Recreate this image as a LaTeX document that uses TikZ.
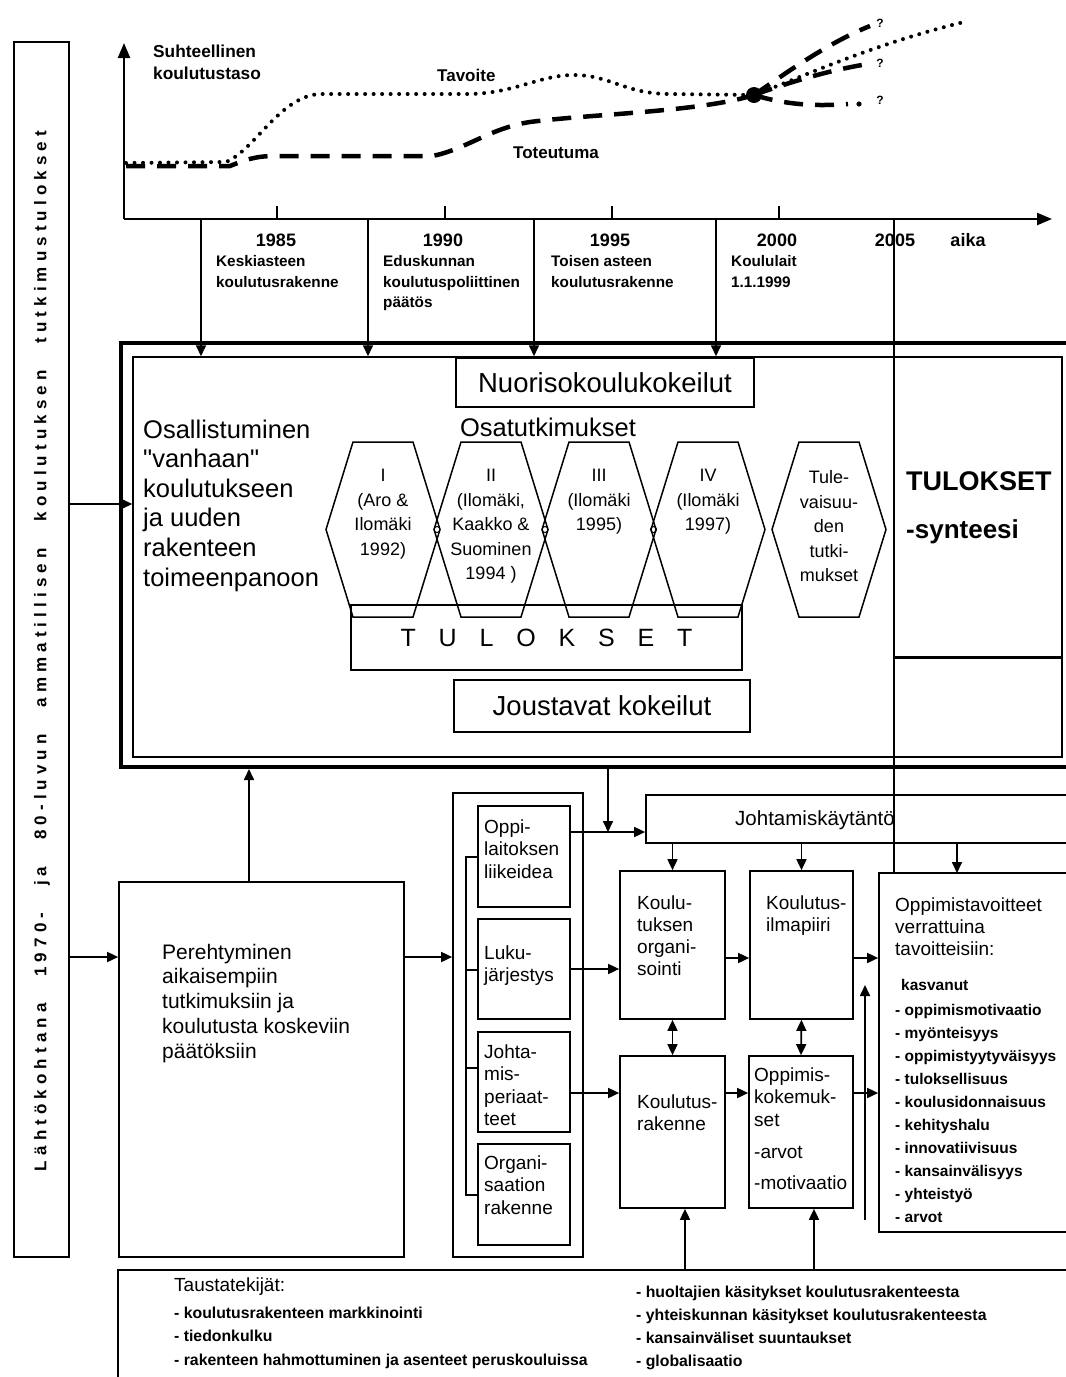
\documentclass[tikz,border=0pt]{standalone}
\usepackage{fontspec}
\setmainfont{Liberation Sans}
\newfontfamily\qf{Liberation Sans}
\usetikzlibrary{arrows.meta}
\newcommand\fsz[2]{\fontsize{#1pt}{#2pt}\selectfont}
\begin{document}
\begin{tikzpicture}[x=1pt,y=-1pt,
  ln/.style={line width=1.7pt},
  ar/.style={ln,-{Triangle[length=11pt,width=10pt]}},
  dar/.style={ln,{Triangle[length=11pt,width=10pt]}-{Triangle[length=11pt,width=10pt]}},
  bx/.style={draw,line width=1.7pt,inner sep=0pt},
  txt/.style={anchor=base west,align=left,inner sep=0pt},
  hexs/.style={line width=1.5pt},
  hext/.style={anchor=base,align=center,inner sep=0pt,font=\fsz{18}{24.5}},
  dotl/.style={line width=4pt,line cap=round,dash pattern=on 0pt off 8.5pt},
  dashl/.style={line width=4.5pt,dash pattern=on 19pt off 12pt},
  yr/.style={anchor=base,inner sep=0pt,font=\bfseries\fsz{18}{20}},
  desc/.style={txt,font=\bfseries\fsz{15.3}{20.5}},
  qm/.style={inner sep=0pt,font=\bfseries\fsz{12}{14}},
  boxt/.style={txt,font=\fsz{19}{22.5}}
]
\useasboundingbox (0,0) rectangle (1066,1377);
\clip (0,0) rectangle (1066,1377);
\fill[white] (0,0) rectangle (1066,1377);

% ---------- left vertical box ----------
\node[bx, minimum width=55pt, minimum height=1215pt] (leftbox) at (41.5,649.5) {};
\node[rotate=90,inner sep=0pt,font=\bfseries\fsz{17}{20}\addfontfeature{LetterSpace=30}] (vtext) at (42,651)
  {\makebox[1040pt][s]{Lähtökohtana 1970- ja 80-luvun ammatillisen koulutuksen tutkimustulokset}};

% ---------- graph ----------
\coordinate (orig) at (124,219);
\coordinate (ytip) at (124,43);
\coordinate (xtip) at (1052,219);
\draw[line width=2.4pt,-{Triangle[length=15pt,width=12pt]}] (orig) -- (ytip);
\draw[line width=2.4pt,-{Triangle[length=15pt,width=12pt]}] (orig) -- (xtip);
\foreach \t in {277,445,612,779} \draw[ln] (\t,206) -- (\t,219);

\node[txt,font=\bfseries\fsz{17.3}{22}] (ylab) at (153,79) {Suhteellinen\\koulutustaso};
\node[txt,font=\bfseries\fsz{17}{20}] (tav) at (437,81) {Tavoite};
\node[txt,font=\bfseries\fsz{17}{20}] (tot) at (513,158) {Toteutuma};

\draw[dotl] (126,163) -- (226,162) .. controls (255,150) and (280,96) .. (320,94) -- (470,94)
   .. controls (515,93) and (540,75) .. (574,75) .. controls (610,75) and (625,94) .. (670,94)
   -- (754,95) .. controls (800,78) and (870,45) .. (964,22);
\draw[dashl] (126,166) -- (230,166) .. controls (245,160) and (255,156) .. (275,156) -- (432,156)
   .. controls (465,150) and (490,128) .. (530,122) .. controls (590,114) and (700,112) .. (754,95);
\coordinate (bdot) at (754,95);
\draw[dashl] (bdot) .. controls (790,70) and (830,42) .. (870,26);
\draw[dashl] (bdot) .. controls (790,82) and (830,70) .. (868,64);
\draw[dashl] (bdot) .. controls (790,106) and (820,106) .. (848,104);
\fill (859,104) circle (2.6);
\fill (bdot) circle (8);
\node[qm] (q1) at (880,23) {?};
\node[qm] (q2) at (880,63) {?};
\node[qm] (q3) at (880,100) {?};

\node[yr] (y85) at (276,246.5) {1985};
\node[yr] (y90) at (443,246.5) {1990};
\node[yr] (y95) at (610,246.5) {1995};
\node[yr] (y00) at (777,246.5) {2000};
\node[yr] (y05) at (895,246.5) {2005};
\node[yr] (aika) at (968,246.5) {aika};
\node[desc] (d85) at (216,287) {Keskiasteen\\koulutusrakenne};
\node[desc] (d90) at (383,307.5) {Eduskunnan\\koulutuspoliittinen\\päätös};
\node[desc] (d95) at (551,287) {Toisen asteen\\koulutusrakenne};
\node[desc] (d00) at (731,287) {Koululait\\1.1.1999};

% ---------- big box ----------
\node[draw,line width=4pt,inner sep=0pt,minimum width=960pt,minimum height=424pt] (outer) at (600.5,555) {};
\node[draw,line width=1.5pt,inner sep=0pt,minimum width=929pt,minimum height=400pt] (inner) at (597.5,557) {};
\node[bx,line width=1.5pt,minimum width=168pt,minimum height=300pt] (tul) at (978,507) {};
\node[txt,font=\bfseries\fsz{27}{30}] (tt1) at (906,490) {TULOKSET};
\node[txt,font=\bfseries\fsz{26}{30}] (tt2) at (906,538) {-synteesi};

\node[bx,minimum width=298pt,minimum height=49pt,font=\fsz{27.5}{30}] (nuor) at (605,382.5) {Nuorisokoulukokeilut};
\node[inner sep=0pt,font=\fsz{25.5}{30}] (ost) at (548,427) {Osatutkimukset};
\node[txt,font=\fsz{25.5}{29.6}] (osa) at (143,586) {Osallistuminen\\{\qf"}vanhaan{\qf"}\\koulutukseen\\ja uuden\\rakenteen\\toimeenpanoon};

\foreach \cx in {383,491,599,708,829}
  \draw[hexs] (\cx-57,529.5) -- (\cx-30,442) -- (\cx+30,442) -- (\cx+57,529.5) -- (\cx+30,617) -- (\cx-30,617) -- cycle;
\foreach \cx in {437,545,653.5} \draw[line width=1pt] (\cx,529.5) circle (3);
\node[hext] (h1) at (383,555) {I\\(Aro \&\\Ilomäki\\1992)};
\node[hext] (h2) at (491,579.5) {II\\(Ilomäki,\\Kaakko \&\\Suominen\\1994 )};
\node[hext] (h3) at (599,530.5) {III\\(Ilomäki\\1995)};
\node[hext] (h4) at (708,530.5) {IV\\(Ilomäki\\1997)};
\node[hext] (h5) at (829,581.5) {Tule-\\vaisuu-\\den\\tutki-\\mukset};

\node[bx,minimum width=391pt,minimum height=65pt,font=\fsz{25}{30}] (tbox) at (546.5,637.5) {\makebox[292pt][s]{T U L O K S E T}};
\node[bx,minimum width=296pt,minimum height=52pt,font=\fsz{27.5}{30}] (jous) at (602,706) {Joustavat kokeilut};

% ---------- lower part ----------
\node[bx,minimum width=285pt,minimum height=375pt] (pere) at (261.5,1069.5) {};
\node[txt,font=\fsz{21}{24.8}] (pt) at (162,1058.2) {Perehtyminen\\aikaisempiin\\tutkimuksiin ja\\koulutusta koskeviin\\päätöksiin};

\node[bx,minimum width=130pt,minimum height=464pt] (group) at (518,1025) {};
\node[bx,minimum width=92pt,minimum height=101pt] (b1) at (524,856.5) {};
\node[bx,minimum width=92pt,minimum height=100pt] (b2) at (524,969) {};
\node[bx,minimum width=92pt,minimum height=100pt] (b3) at (524,1082) {};
\node[bx,minimum width=92pt,minimum height=101pt] (b4) at (524,1194.5) {};
\node[boxt] (b1t) at (484,878) {Oppi-\\laitoksen\\liikeidea};
\node[boxt] (b2t) at (484,981.5) {Luku-\\järjestys};
\node[boxt] (b3t) at (484,1125.5) {Johta-\\mis-\\periaat-\\teet};
\node[boxt] (b4t) at (484,1214) {Organi-\\saation\\rakenne};
\draw[ln] (b1.west |- 0,857) -- (466,857) -- (466,1195) -- (b4.west |- 0,1195);
\draw[ln] (466,970) -- (b2.west |- 0,970);
\draw[ln] (466,1068) -- (b3.west |- 0,1068);

\node[bx,minimum width=434pt,minimum height=48pt] (joht) at (863,819) {};
\node[inner sep=0pt,font=\fsz{20.5}{24}] (jtx) at (815,820) {Johtamiskäytäntö};

\node[bx,minimum width=105pt,minimum height=148pt] (korg) at (672.5,945) {};
\node[bx,minimum width=103pt,minimum height=148pt] (kilm) at (801.5,945) {};
\node[bx,minimum width=105pt,minimum height=152pt] (krak) at (672.5,1132) {};
\node[bx,minimum width=104pt,minimum height=152pt] (okok) at (801,1132) {};
\node[boxt,font=\fsz{19}{22.3}] (korgt) at (637,975.9) {Koulu-\\tuksen\\organi-\\sointi};
\node[boxt,font=\fsz{19}{22.3}] (kilmt) at (766,931.3) {Koulutus-\\ilmapiiri};
\node[boxt,font=\fsz{19}{22.3}] (krakt) at (637,1130.3) {Koulutus-\\rakenne};
\node[boxt,font=\fsz{19}{22.5}] (okokt) at (754,1189) {Oppimis-\\kokemuk-\\set\\[9.5pt]-arvot\\[8.5pt]-motivaatio};

\node[bx,minimum width=201pt,minimum height=359pt] (otav) at (979.5,1052.5) {};
\node[txt,font=\fsz{19}{22}] (otx) at (895,955) {Oppimistavoitteet\\verrattuina\\tavoitteisiin:};
\node[txt,font=\bfseries\fsz{15.5}{23.1}] (kas) at (901,990) {kasvanut};
\node[txt,font=\bfseries\fsz{15.5}{23.1}] (lst) at (895,1222.9) {- oppimismotivaatio\\- myönteisyys\\- oppimistyytyväisyys\\- tuloksellisuus\\- koulusidonnaisuus\\- kehityshalu\\- innovatiivisuus\\- kansainvälisyys\\- yhteistyö\\- arvot};

\node[bx,minimum width=962pt,minimum height=120pt] (taus) at (599,1330) {};
\node[txt,font=\fsz{19}{23}] (tt) at (174,1291) {Taustatekijät:};
\node[txt,font=\bfseries\fsz{15.8}{23.5}] (tl) at (174,1365) {- koulutusrakenteen markkinointi\\- tiedonkulku\\- rakenteen hahmottuminen ja asenteet peruskouluissa};
\node[txt,font=\bfseries\fsz{15.8}{23.3}] (tr) at (636,1366.9) {- huoltajien käsitykset koulutusrakenteesta\\- yhteiskunnan käsitykset koulutusrakenteesta\\- kansainväliset suuntaukset\\- globalisaatio};

% ---------- connectors ----------
\foreach \vx/\nm in {201/v1,368/v2,534/v3,716/v4} {
  \coordinate (\nm) at (\vx,219);
  \draw[ar] (\nm) -- (\nm |- inner.north);
}
\coordinate (v5) at (894,219);
\draw[line width=1.2pt] (v5) -- (v5 |- otav.north);
\draw[line width=1.5pt] (tul.south west) -- (tul.south east);

\coordinate (la) at (69,504);
\draw[ar] (la) -- (la -| inner.west);
\coordinate (lb) at (69,957);
\draw[ar] (lb) -- (lb -| pere.west);
\coordinate (pu) at (249,882);
\draw[ar] (pu) -- (pu |- outer.south);
\draw[ar] (pere.east |- lb) -- (lb -| group.west);
\coordinate (od) at (608,832);
\draw[ar] (od |- outer.south) -- (od);
\draw[ar] (b1.east |- od) -- (od -| joht.west);
\draw[ar] (korg.north |- joht.south) -- (korg.north);
\draw[ar] (kilm.north |- joht.south) -- (kilm.north);
\coordinate (ot) at (957,873);
\draw[ar] (ot |- joht.south) -- (ot);
\draw[ar] (b2.east) -- (b2.east -| korg.west);
\coordinate (r3) at (570,1093);
\draw[ar] (r3) -- (r3 -| krak.west);
\coordinate (r2) at (725,958);
\draw[ar] (r2) -- (r2 -| kilm.west);
\draw[ar] (kilm.east |- r2) -- (r2 -| otav.west);
\draw[ar] (krak.east |- r3) -- (r3 -| okok.west);
\draw[ar] (okok.east |- r3) -- (r3 -| otav.west);
\draw[dar] (korg.south) -- (krak.north);
\draw[dar] (kilm.south) -- (okok.north);
\coordinate (va) at (865,1220);
\coordinate (vb) at (865,985);
\draw[ar] (va) -- (vb);
\coordinate (t1) at (685,1270);
\draw[ar] (t1) -- (t1 |- krak.south);
\coordinate (t2) at (814,1270);
\draw[ar] (t2) -- (t2 |- okok.south);
\end{tikzpicture}
\end{document}
